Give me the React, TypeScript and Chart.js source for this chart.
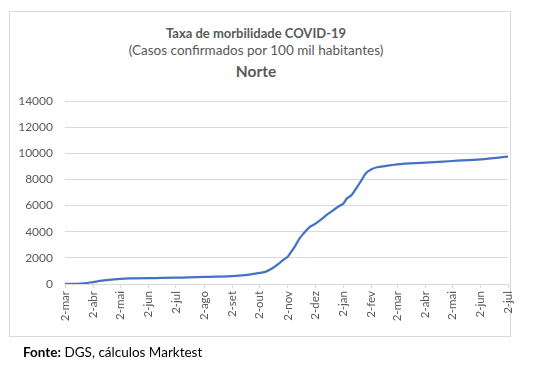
import React, { useEffect, useRef } from "react";
import { Chart, registerables } from "chart.js";

Chart.register(...registerables);

const dates: string[] = [
  "2020-03-02", "2020-03-16", "2020-03-23", "2020-04-02", "2020-04-12", "2020-04-22",
  "2020-05-02", "2020-05-16", "2020-06-02", "2020-06-16", "2020-07-02", "2020-07-16",
  "2020-08-02", "2020-08-16", "2020-09-02", "2020-09-16", "2020-09-24", "2020-10-02",
  "2020-10-09", "2020-10-16", "2020-10-23", "2020-10-28", "2020-11-02", "2020-11-06",
  "2020-11-10", "2020-11-14", "2020-11-19", "2020-11-25", "2020-12-02", "2020-12-08",
  "2020-12-15", "2020-12-21", "2020-12-28", "2021-01-02", "2021-01-06", "2021-01-11",
  "2021-01-16", "2021-01-22", "2021-01-27", "2021-02-02", "2021-02-08", "2021-02-18",
  "2021-03-02", "2021-04-02", "2021-05-02", "2021-06-02", "2021-07-02",
];
const values: number[] = [
  0, 10, 50, 150, 250, 330,
  400, 430, 450, 460, 480, 510,
  540, 560, 600, 680, 750, 850,
  950, 1200, 1550, 1850, 2100, 2500,
  2900, 3400, 3850, 4300, 4600, 4900,
  5300, 5600, 5950, 6150, 6550, 6800,
  7300, 7950, 8500, 8770, 8930, 9030,
  9150, 9280, 9410, 9540, 9740,
];

const tickDates: string[] = [
  "2020-03-02", "2020-04-02", "2020-05-02", "2020-06-02", "2020-07-02", "2020-08-02",
  "2020-09-02", "2020-10-02", "2020-11-02", "2020-12-02", "2021-01-02", "2021-02-02",
  "2021-03-02", "2021-04-02", "2021-05-02", "2021-06-02", "2021-07-02",
];
const tickLabels: string[] = [
  "2-mar", "2-abr", "2-mai", "2-jun", "2-jul", "2-ago", "2-set", "2-out", "2-nov",
  "2-dez", "2-jan", "2-fev", "2-mar", "2-abr", "2-mai", "2-jun", "2-jul",
];
const yTicks: number[] = [0, 2000, 4000, 6000, 8000, 10000, 12000, 14000];

const titleLine1 = "Taxa de morbilidade COVID-19";
const titleLine2 = "(Casos confirmados por 100 mil habitantes)";
const titleLine3 = "Norte";

const START = Date.UTC(2020, 2, 2);
const dayIndex = (d: string) => {
  const [y, m, dd] = d.split("-").map(Number);
  return Math.round((Date.UTC(y, m - 1, dd) - START) / 86400000);
};

const FONT = "Lato, 'Open Sans', sans-serif";

export default function App() {
  const ref = useRef<HTMLCanvasElement | null>(null);

  useEffect(() => {
    if (!ref.current) return;
    const tickDays = tickDates.map(dayIndex);
    const chart = new Chart(ref.current, {
      type: "line",
      data: {
        datasets: [
          {
            data: dates.map((d, i) => ({ x: dayIndex(d), y: values[i] })),
            borderColor: "#4472C4",
            borderWidth: 2.25,
            pointRadius: 0,
            cubicInterpolationMode: "monotone",
            fill: false,
          },
        ],
      },
      options: {
        animation: false,
        responsive: false,
        maintainAspectRatio: false,
        layout: { padding: { left: 9, top: 101, right: 32, bottom: 51 } },
        plugins: { legend: { display: false }, tooltip: { enabled: false } },
        scales: {
          x: {
            type: "linear",
            min: tickDays[0],
            max: tickDays[tickDays.length - 1],
            afterBuildTicks: (scale: any) => {
              scale.ticks = tickDays.map((v) => ({ value: v }));
            },
            afterFit: (scale: any) => {
              scale.height = 40;
            },
            ticks: {
              autoSkip: false,
              maxRotation: 90,
              minRotation: 90,
              padding: 3,
              color: "#595959",
              font: { family: FONT, size: 11.5 },
              callback: (v: any) => {
                const i = tickDays.indexOf(Number(v));
                return i >= 0 ? tickLabels[i] : "";
              },
            },
            grid: {
              drawOnChartArea: false,
              drawTicks: true,
              tickLength: 4,
              color: "#d9d9d9",
            },
            border: { color: "#d9d9d9", width: 1 },
          },
          y: {
            min: yTicks[0],
            max: yTicks[yTicks.length - 1],
            afterFit: (scale: any) => {
              scale.width = 56;
            },
            afterBuildTicks: (scale: any) => {
              scale.ticks = yTicks.map((v) => ({ value: v }));
            },
            ticks: {
              padding: 12,
              color: "#595959",
              font: { family: FONT, size: 12 },
              callback: (v: any) => String(v),
            },
            grid: { color: "#d9d9d9", drawTicks: false },
            border: { display: false },
          },
        },
      },
    });
    return () => chart.destroy();
  }, []);

  return (
    <div style={{ position: "absolute", left: 0, top: 0, width: 540, height: 375, background: "#fff", fontFamily: FONT }}>
      <div style={{ position: "absolute", left: 9, top: 11, width: 500, height: 324, border: "1px solid #d9d9d9" }} />
      <div style={{ position: "absolute", left: 0, top: 25, width: 512, textAlign: "center", fontSize: 13, lineHeight: "16px", fontWeight: 700, color: "#595959" }}>
        {titleLine1}
      </div>
      <div style={{ position: "absolute", left: 0, top: 42, width: 512, textAlign: "center", fontSize: 13.5, lineHeight: "16px", color: "#595959" }}>
        {titleLine2}
      </div>
      <div style={{ position: "absolute", left: 0, top: 62, width: 512, textAlign: "center", fontSize: 15.5, lineHeight: "18px", fontWeight: 700, color: "#595959" }}>
        {titleLine3}
      </div>
      <canvas ref={ref} width={540} height={375} style={{ position: "absolute", left: 0, top: 0, width: 540, height: 375 }} />
      <div style={{ position: "absolute", left: 23, top: 344, fontSize: 13.5, lineHeight: "16px", color: "#000" }}>
        <b>Fonte:</b> DGS, cálculos Marktest
      </div>
    </div>
  );
}
